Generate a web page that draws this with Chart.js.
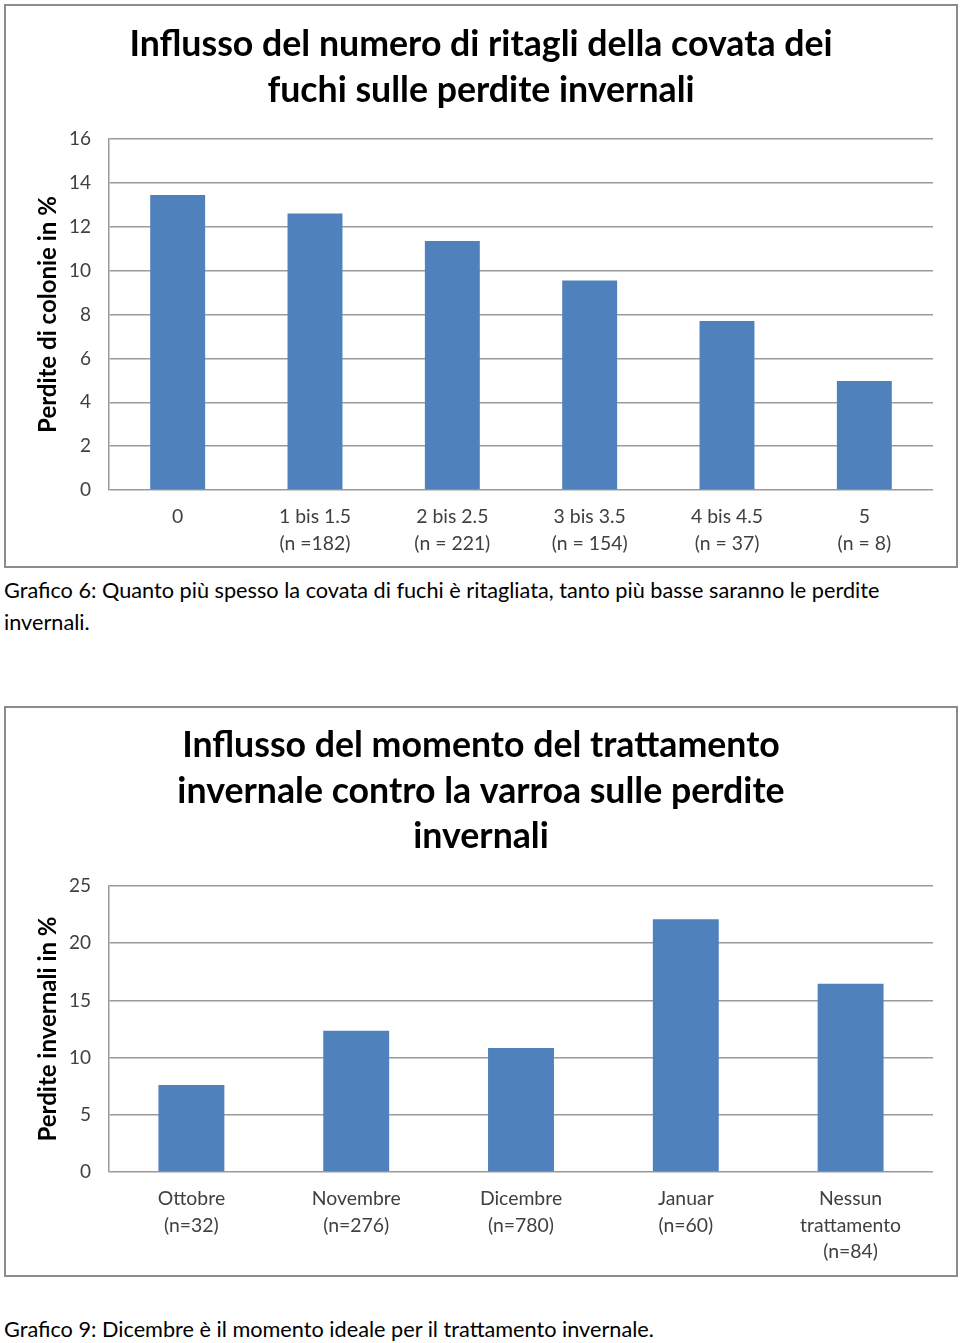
<!DOCTYPE html>
<html>
<head>
<meta charset="utf-8">
<script src="https://cdn.jsdelivr.net/npm/chart.js@4.4.1/dist/chart.umd.min.js"></script>
<style>
  body { margin: 0; background: #fff; font-family: Lato, sans-serif; }
  .page { position: relative; width: 960px; height: 1343px; }
  .box { position: absolute; left: 4px; width: 954px; border: 2px solid #8c8c8c; box-sizing: border-box; background: #fff; }
  .box canvas { display: block; }
  .caption { position: absolute; left: 4px; width: 900px; font-size: 21.7px; line-height: 32px; color: #000; }
</style>
</head>
<body>
<div class="page">
  <div class="box" style="top:4px;height:564px;"><canvas id="chart1"></canvas></div>
  <div class="caption" style="top:574px;">Grafico 6: Quanto più spesso la covata di fuchi è ritagliata, tanto più basse saranno le perdite invernali.</div>
  <div class="box" style="top:706px;height:571px;"><canvas id="chart2"></canvas></div>
  <div class="caption" style="top:1313px;">Grafico 9: Dicembre è il momento ideale per il trattamento invernale.</div>
</div>
<script>
// ---- chart 1: ritagli della covata dei fuchi ----
const cutLabels = [['0'], ['1 bis 1.5', '(n =182)'], ['2 bis 2.5', '(n = 221)'], ['3 bis 3.5', '(n = 154)'], ['4 bis 4.5', '(n = 37)'], ['5', '(n = 8)']];
const cutLosses = [13.45, 12.6, 11.35, 9.55, 7.7, 4.97];
const cutTicks = { min: 0, max: 16, step: 2 };

// ---- chart 2: momento del trattamento ----
const timeLabels = [['Ottobre', '(n=32)'], ['Novembre', '(n=276)'], ['Dicembre', '(n=780)'], ['Januar', '(n=60)'], ['Nessun', 'trattamento', '(n=84)']];
const timeLosses = [7.6, 12.35, 10.85, 22.1, 16.45];
const timeTicks = { min: 0, max: 25, step: 5 };

const BAR = '#4f81bd';
const GRID = '#9a9a9a';
const TICK = '#404040';

function makeChart(id, w, h, title, yTitle, labels, values, ticks, xHeight, titlePad) {
  const cv = document.getElementById(id);
  cv.width = w; cv.height = h;
  cv.style.width = w + 'px'; cv.style.height = h + 'px';
  return new Chart(cv.getContext('2d'), {
    type: 'bar',
    data: {
      labels: labels,
      datasets: [{ data: values, backgroundColor: BAR, borderWidth: 0, barPercentage: 0.5, categoryPercentage: 0.8 }]
    },
    options: {
      responsive: false, animation: false,
      layout: { padding: 0 },
      plugins: {
        legend: { display: false },
        tooltip: { enabled: false },
        title: {
          display: true, text: title, color: '#000',
          font: { family: 'Lato', size: 35.7, weight: 'bold', lineHeight: 1.275 },
          padding: titlePad
        }
      },
      scales: {
        x: {
          grid: { display: false, drawTicks: false },
          border: { display: false },
          ticks: { color: TICK, font: { family: 'Lato', size: 19.4, lineHeight: 1.35 }, padding: 14, maxRotation: 0, autoSkip: false },
          afterFit: s => { s.height = xHeight; }
        },
        y: {
          min: ticks.min, max: ticks.max,
          grid: { color: GRID, lineWidth: 1.5, drawTicks: false },
          border: { display: true, color: GRID, width: 1.5 },
          ticks: { stepSize: ticks.step, color: TICK, font: { family: 'Lato', size: 19 }, padding: 18 },
          title: { display: true, text: yTitle, color: '#000', font: { family: 'Lato', size: 24, weight: 'bold', lineHeight: 1.2 }, padding: { top: 28, bottom: 0 } },
          afterFit: s => { s.width = 103; }
        },
        // empty right margin, keeps the title centred on the whole box
        yRight: {
          position: 'right', display: true,
          grid: { display: false, drawTicks: false },
          border: { display: false },
          ticks: { display: false },
          afterFit: s => { s.width = 23; }
        }
      }
    }
  });
}

makeChart('chart1', 950, 560,
  ['Influsso del numero di ritagli della covata dei', 'fuchi sulle perdite invernali'],
  'Perdite di colonie in %', cutLabels, cutLosses, cutTicks, 76, { top: 16, bottom: 26 });

makeChart('chart2', 950, 567,
  ['Influsso del momento del trattamento', 'invernale contro la varroa sulle perdite', 'invernali'],
  'Perdite invernali in %', timeLabels, timeLosses, timeTicks, 103, { top: 15, bottom: 26.5 });
</script>
</body>
</html>
